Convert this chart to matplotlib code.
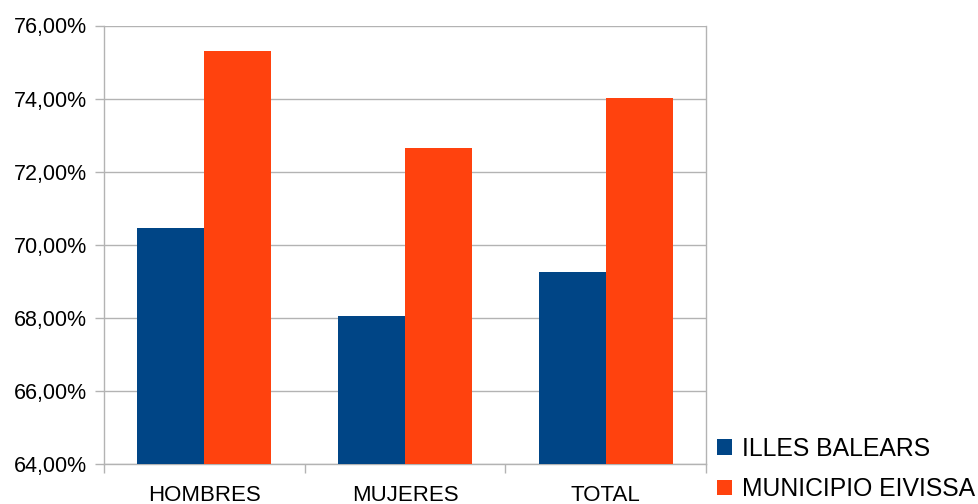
import matplotlib
matplotlib.use("Agg")
import matplotlib.pyplot as plt
import numpy as np
from matplotlib.ticker import FuncFormatter, MultipleLocator
from matplotlib.patches import Patch

categories = ["HOMBRES", "MUJERES", "TOTAL"]
illes_balears = [70.46, 68.05, 69.26]
municipio_eivissa = [75.30, 72.65, 74.01]
series_names = ["ILLES BALEARS", "MUNICIPIO EIVISSA"]
colors = ["#004586", "#ff420e"]
grid_color = "#b3b3b3"

plt.rcParams['font.family'] = ['Liberation Sans', 'DejaVu Sans']

fig = plt.figure(figsize=(9.79, 5.04), dpi=100)
ax = fig.add_axes([104/979, 1-464/504, (706-104)/979, (464-25.5)/504])

x = np.arange(len(categories))
w = 1/3
ax.bar(x - w/2, illes_balears, width=w, color=colors[0], zorder=3)
ax.bar(x + w/2, municipio_eivissa, width=w, color=colors[1], zorder=3)

ax.set_xlim(-0.5, len(categories) - 0.5)
ax.set_ylim(64, 76)
ax.yaxis.set_major_locator(MultipleLocator(2))
ax.yaxis.set_major_formatter(FuncFormatter(lambda v, p: f"{v:.2f}".replace(".", ",") + "%"))
ax.grid(axis='y', color=grid_color, linewidth=1, zorder=0)

ax.set_xticks(x)
ax.set_xticklabels(categories)
ax.set_xticks(np.arange(-0.5, len(categories)), minor=True)
ax.tick_params(axis='x', which='major', length=0, pad=15, labelsize=16)
ax.tick_params(axis='x', which='minor', length=6.5, color=grid_color, width=1)
ax.tick_params(axis='y', length=6.5, color=grid_color, width=1, pad=6, labelsize=15.5)

for s in ['left', 'bottom', 'right']:
    ax.spines[s].set_color(grid_color)
    ax.spines[s].set_linewidth(1)
ax.spines['top'].set_visible(False)

handles = [Patch(facecolor=c, edgecolor='none') for c in colors]
fig.legend(handles, series_names, loc='upper left',
           bbox_to_anchor=(717/979, 1-437/504), frameon=False,
           fontsize=17.8, handlelength=0.6, handleheight=0.6,
           handletextpad=0.4, labelspacing=0.65, borderpad=0, borderaxespad=0)

fig.savefig("out.png", dpi=100)
